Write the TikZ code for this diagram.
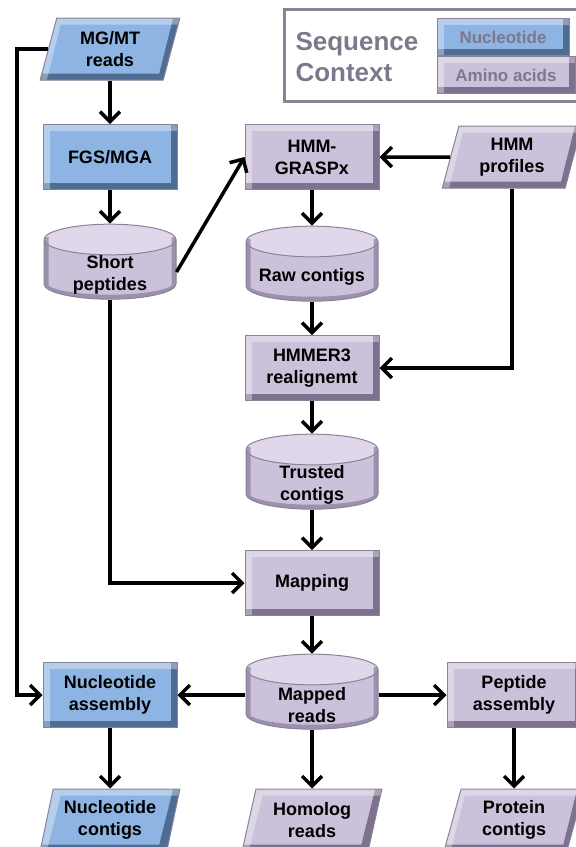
\documentclass[tikz,border=0pt]{standalone}
\usepackage{fontspec}
\setmainfont{Liberation Sans}
\usepackage{tikz}
\usetikzlibrary{shapes,arrows,positioning,calc,arrows.meta}

\definecolor{nucfill}{HTML}{8DB4E2}
\definecolor{nucdark}{HTML}{4F6C93}
\definecolor{aafill}{HTML}{CCC1DA}
\definecolor{aadark}{HTML}{7D7190}
\definecolor{aalight}{HTML}{E0D8EA}
\definecolor{rim}{HTML}{8A8396}
\definecolor{legendgray}{HTML}{7F778B}

\newcommand{\boxfont}{\fontsize{18}{22}\selectfont\bfseries}

\tikzset{
  bevel/.style 2 args={path picture={
    \draw[#1, line width=13pt, line join=miter]
      let \p1=(path picture bounding box.south west),
          \p2=(path picture bounding box.north east),
          \n1={#2*(\y2-\y1)} in
      (\x1,\y1) -- (\x2-\n1,\y1) -- (\x2,\y2);
    \draw[white, opacity=.35, line width=13pt, line join=miter]
      let \p1=(path picture bounding box.south west),
          \p2=(path picture bounding box.north east),
          \n1={#2*(\y2-\y1)} in
      (\x1,\y1) -- (\x1+\n1,\y2) -- (\x2,\y2);
  }},
  nucbox/.style={rectangle, draw=rim, line width=1pt, fill=nucfill,
    bevel={nucdark}{0}, minimum width=134pt, minimum height=65pt,
    font=\boxfont, align=center},
  aabox/.style={nucbox, fill=aafill, bevel={aadark}{0}},
  nucdata/.style={trapezium, trapezium left angle=76, trapezium right angle=104,
    trapezium stretches=true, draw=rim, line width=1pt, fill=nucfill,
    bevel={nucdark}{0.25}, minimum width=140pt, minimum height=62pt,
    font=\boxfont, align=center},
  aadata/.style={nucdata, fill=aafill, bevel={aadark}{0.25}},
  aadb/.style={cylinder, shape border rotate=90, aspect=4.6, draw=rim,
    line width=1pt, cylinder uses custom fill, cylinder body fill=aafill,
    cylinder end fill=aalight, minimum width=132pt, minimum height=75pt,
    path picture={
      \draw[aadark, line width=9pt, opacity=.6]
        let \p1=(path picture bounding box.south west),
            \p2=(path picture bounding box.north east) in
        (\x2,\y2-13pt) -- (\x2,\y1+13pt)
        arc[start angle=0, end angle=-180, x radius={(\x2-\x1)/2}, y radius=13pt]
        -- (\x1,\y2-13pt);
    }},
  dbtext/.style={font=\boxfont, align=center, yshift=-3pt},
  flow/.style={-{Straight Barb[length=10pt,width=20pt]}, line width=3.5pt},
}

\begin{document}
\begin{tikzpicture}[x=1pt, y=-1pt]
    \useasboundingbox (0,0) rectangle (576,847);

    % Legend
    \draw[rim, line width=3pt] (284,9) rectangle (600,101);
    \node[text=legendgray, font=\fontsize{26}{31}\selectfont\bfseries, align=left, anchor=west] (legtitle) at (292,57) {Sequence\\Context};
    \node[nucbox, minimum width=132pt, minimum height=37pt, text=legendgray, font=\fontsize{17}{20}\selectfont\bfseries] (legnuc) at (503,37) {Nucleotide};
    \node[aabox, minimum width=138pt, minimum height=37pt, text=legendgray, font=\fontsize{17}{20}\selectfont\bfseries] (legaa) at (506,75) {Amino acids};

    % Left column
    \node[nucdata] (mgmt) at (110,49) {MG/MT\\reads};
    \node[nucbox] (fgs) at (110,157) {FGS/MGA};
    \node[aadb, label={[dbtext]center:{Short\\peptides}}] (shortpep) at (110,272) {};

    % Middle column
    \node[aabox] (grasp) at (312,157) {HMM-\\GRASPx};
    \node[aadata] (hmmprof) at (512,157) {HMM\\profiles};
    \node[aadb, label={[dbtext]center:{Raw contigs}}] (rawctg) at (312,274) {};
    \node[aabox] (hmmer) at (312,368) {HMMER3\\realignemt};
    \node[aadb, label={[dbtext]center:{Trusted\\contigs}}] (trusted) at (312,482) {};
    \node[aabox] (mapping) at (312,583) {Mapping};
    \node[aadb, label={[dbtext]center:{Mapped\\reads}}] (mapped) at (312,702) {};

    % Assembly
    \node[nucbox] (nucasm) at (110,695) {Nucleotide\\assembly};
    \node[aabox] (pepasm) at (514,695) {Peptide\\assembly};
    \node[nucdata] (nucctg) at (110,820) {Nucleotide\\contigs};
    \node[aadata] (homolog) at (312,820) {Homolog\\reads};
    \node[aadata] (protctg) at (514,820) {Protein\\contigs};

    \coordinate (rail) at (17,0);

    % Connectors
    \draw[flow] (mgmt) -- (fgs);
    \draw[flow] (fgs) -- (shortpep);
    \draw[flow] (shortpep.east) -- (grasp.west);
    \draw[flow] (hmmprof) -- (grasp);
    \draw[flow] (grasp) -- (rawctg);
    \draw[flow] (rawctg) -- (hmmer);
    \draw[flow] (hmmprof.south) |- (hmmer.east);
    \draw[flow] (hmmer) -- (trusted);
    \draw[flow] (trusted) -- (mapping);
    \draw[flow] (shortpep.south) |- (mapping.west);
    \draw[flow] (mapping) -- (mapped);
    \draw[flow] (mapped.west |- nucasm) -- (nucasm.east);
    \draw[flow] (mapped.east |- pepasm) -- (pepasm.west);
    \draw[flow] (mgmt.west) -- (mgmt.west -| rail) |- (nucasm.west);
    \draw[flow] (nucasm) -- (nucctg);
    \draw[flow] (mapped) -- (homolog);
    \draw[flow] (pepasm) -- (protctg);
\end{tikzpicture}
\end{document}
